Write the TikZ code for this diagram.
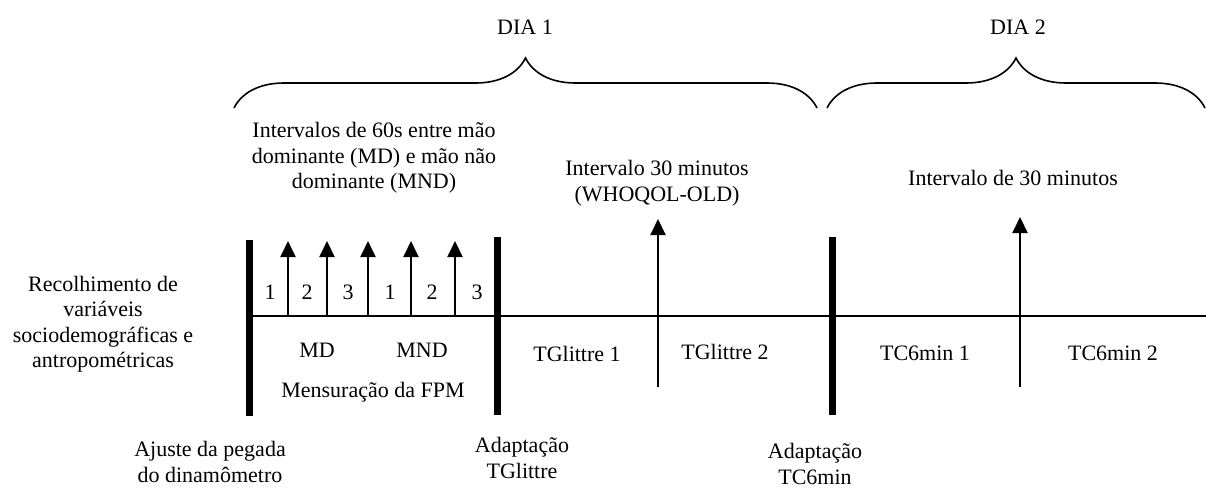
\documentclass[tikz,border=0pt]{standalone}
\usepackage{fontspec}
\setmainfont{Liberation Serif}
\usetikzlibrary{arrows.meta,decorations.pathreplacing}

\tikzset{
  bar/.style={line width=7pt},
  axis/.style={line width=2pt},
  up/.style={line width=2pt,-{Triangle[length=16pt,width=15pt]}},
  dia/.style={line width=1.6pt,decorate,decoration={brace,amplitude=50pt}},
  txt/.style={align=center,inner sep=0pt}
}

\begin{document}
\begin{tikzpicture}[x=1pt,y=-1pt,font=\fontsize{22}{25.5}\selectfont]
  \useasboundingbox (0,0) rectangle (1206,488);

  % dias
  \coordinate (d1a) at (234,108);
  \coordinate (d1b) at (817,108);
  \coordinate (d2a) at (827,108);
  \coordinate (d2b) at (1205,108);
  \draw[dia] (d1a) -- (d1b);
  \draw[dia] (d2a) -- (d2b);
  \node[txt](dia1)at(525,27) {DIA 1};
  \node[txt](dia2)at(1018,27) {DIA 2};

  % linha do tempo
  \coordinate (t0) at (249,316);
  \coordinate (tend) at (1206,316);
  \draw[axis] (t0) -- (tend);

  \coordinate (b1top) at (249,240);
  \coordinate (b1bot) at (249,416);
  \coordinate (b2top) at (497,237);
  \coordinate (b2bot) at (497,415);
  \coordinate (b3top) at (832,237);
  \coordinate (b3bot) at (832,415);
  \draw[bar] (b1top) -- (b1bot);
  \draw[bar] (b2top) -- (b2bot);
  \draw[bar] (b3top) -- (b3bot);

  % intervalos da FPM
  \foreach \x [count=\i] in {288,327,368,411,455} {
    \coordinate (s\i) at (\x,316);
    \draw[up] (s\i) -- ++(0,-75);
  }
  \foreach \x/\n [count=\i] in {270/1,307/2,348/3,390/1,432/2,477/3}
    \node[txt](num\i)at(\x,292) {\n};

  % intervalos de 30 minutos
  \coordinate (w0) at (658,387);
  \coordinate (w1) at (658,219);
  \coordinate (c0) at (1020,387);
  \coordinate (c1) at (1020,217);
  \draw[up] (w0) -- (w1);
  \draw[up] (c0) -- (c1);

  \node[txt](intmao)at(374,158) {Intervalos de 60s entre mão\\dominante (MD) e mão não\\dominante (MND)};
  \node[txt](intwho)at(657,183) {Intervalo 30 minutos\\(WHOQOL-OLD)};
  \node[txt](int30)at(1013,178) {Intervalo de 30 minutos};

  \node[txt](md)at(317,350) {MD};
  \node[txt](mnd)at(422,350) {MND};
  \node[txt](fpm)at(373,392) {Mensuração da FPM};
  \node[txt](tg1)at(577,354) {TGlittre 1};
  \node[txt](tg2)at(725,352) {TGlittre 2};
  \node[txt](tc1)at(925,353) {TC6min 1};
  \node[txt](tc2)at(1113,353) {TC6min 2};

  \node[txt](recolh)at(103,324) {Recolhimento de\\variáveis\\sociodemográficas e\\antropométricas};
  \node[txt](ajuste)at(210,462) {Ajuste da pegada\\do dinamômetro};
  \node[txt](adtg)at(522,458) {Adaptação\\TGlittre};
  \node[txt](adtc)at(815,464) {Adaptação\\TC6min};
\end{tikzpicture}
\end{document}
